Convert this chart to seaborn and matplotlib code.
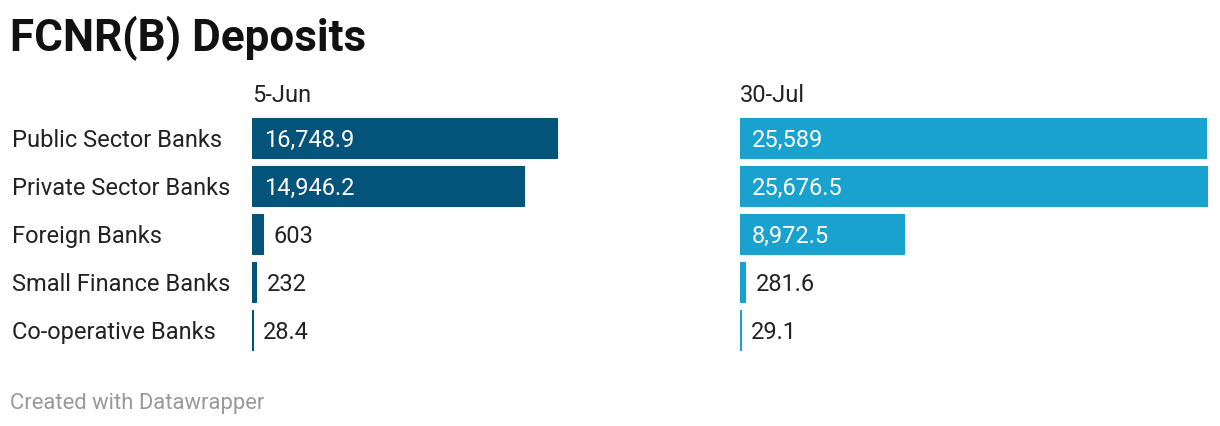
import matplotlib
matplotlib.use('Agg')
import matplotlib.pyplot as plt
import matplotlib.transforms as mtransforms
import pandas as pd
import seaborn as sns

categories = ['Public Sector Banks', 'Private Sector Banks', 'Foreign Banks',
              'Small Finance Banks', 'Co-operative Banks']
jun_values = [16748.9, 14946.2, 603, 232, 28.4]
jul_values = [25589, 25676.5, 8972.5, 281.6, 29.1]
jun_labels = ['16,748.9', '14,946.2', '603', '232', '28.4']
jul_labels = ['25,589', '25,676.5', '8,972.5', '281.6', '29.1']
panel_titles = ['5-Jun', '30-Jul']

sns.set_theme(style='white')
plt.rcParams['font.family'] = ['Roboto', 'DejaVu Sans']

W, H = 1220, 426
fig = plt.figure(figsize=(W / 100, H / 100), dpi=100)

xmax = max(jun_values + jul_values)
top_px, bot_px = 114, 354
fs = 17
dy = -1.5  # nudge text down a bit, matplotlib centres on the full glyph box
panels = [
    (252, '#03537b', jun_values, jun_labels, panel_titles[0]),
    (740, '#1aa2ce', jul_values, jul_labels, panel_titles[1]),
]
axes = []
for left_px, color, vals, labels, title in panels:
    ax = fig.add_axes([left_px / W, (H - bot_px) / H, 468 / W, (bot_px - top_px) / H])
    df = pd.DataFrame({'cat': categories, 'val': vals})
    sns.barplot(data=df, y='cat', x='val', orient='h', color=color, ax=ax,
                width=0.83, edgecolor=color, linewidth=0.8, saturation=1)
    ax.set_xlim(0, xmax)
    ax.set_ylim(4.5, -0.5)
    ax.axis('off')
    for i, (v, lab) in enumerate(zip(vals, labels)):
        if v > 3000:
            ax.annotate(lab, (0, i), xytext=(8.5, dy), textcoords='offset points',
                        ha='left', va='center', color='white', fontsize=fs)
        else:
            ax.annotate(lab, (v, i), xytext=(7.5, dy), textcoords='offset points',
                        ha='left', va='center', color='#222222', fontsize=fs)
    fig.text(left_px / W, 1 - 95 / H, title, ha='left', va='center',
             fontsize=fs, color='#222222')
    axes.append(ax)

trans = mtransforms.blended_transform_factory(fig.transFigure, axes[0].transData)
for i, c in enumerate(categories):
    axes[0].annotate(c, (12 / W, i), xycoords=trans, xytext=(0, dy),
                     textcoords='offset points', ha='left', va='center',
                     fontsize=fs, color='#222222')

fig.text(10 / W, 1 - 38 / H, 'FCNR(B) Deposits', ha='left', va='center',
         fontsize=31.7, fontweight='bold', color='#111111')
fig.text(10 / W, 1 - 403 / H, 'Created with Datawrapper', ha='left', va='center',
         fontsize=15.8, color='#999999')

fig.savefig('out.png', dpi=100, facecolor='white')
